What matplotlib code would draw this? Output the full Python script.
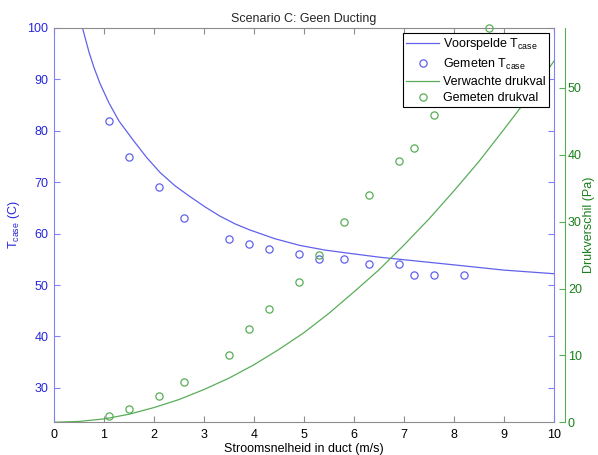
import matplotlib
matplotlib.use("Agg")
import matplotlib.pyplot as plt

# Predicted T_case curve
v_pred = [0.57, 0.7, 0.8, 0.92, 1.1, 1.3, 1.59, 1.85, 2.12, 2.42, 2.72, 3.02, 3.32, 3.62, 3.92, 4.42, 4.92, 5.42, 5.92, 6.52, 7.12, 8.12, 9.0, 10.0]
T_pred = [100.0, 95.3, 92.3, 89.2, 85.4, 81.9, 78.1, 74.85, 71.9, 69.3, 67.2, 65.2, 63.4, 61.9, 60.7, 59.0, 57.7, 56.8, 56.15, 55.4, 54.8, 53.8, 52.9, 52.2]

# Measured T_case
v_meas_T = [1.1, 1.5, 2.1, 2.6, 3.5, 3.9, 4.3, 4.9, 5.3, 5.8, 6.3, 6.9, 7.2, 7.6, 8.2]
T_meas = [82, 75, 69, 63, 59, 58, 57, 56, 55, 55, 54, 54, 52, 52, 52]

# Expected pressure drop curve
v_dp = [0, 0.5, 1, 1.5, 2, 2.5, 3, 3.5, 4, 4.5, 5, 5.5, 6, 6.5, 7, 7.5, 8, 8.5, 9, 9.5, 10]
dp_exp = [0, 0.13, 0.5, 1.2, 2.2, 3.4, 4.9, 6.6, 8.6, 10.9, 13.4, 16.3, 19.5, 22.8, 26.5, 30.4, 34.6, 39.0, 43.8, 48.7, 54.0]

# Measured pressure drop
v_meas_dp = [1.1, 1.5, 2.1, 2.6, 3.5, 3.9, 4.3, 4.9, 5.3, 5.8, 6.3, 6.9, 7.2, 7.6, 8.7]
dp_meas = [1, 2, 4, 6, 10, 14, 17, 21, 25, 30, 34, 39, 41, 46, 59]

plt.rcParams['font.family'] = ['Liberation Sans', 'DejaVu Sans']
plt.rcParams['font.size'] = 9

blue_line = (0.38, 0.38, 0.92)
blue_axis = (0.5, 0.5, 1.0)
blue_text = (0.15, 0.15, 0.85)
green_line = (0.35, 0.68, 0.35)
green_text = (0.1, 0.5, 0.1)
gray = (0.55, 0.55, 0.55)

fig = plt.figure(figsize=(5.98, 4.55), dpi=100)
ax = fig.add_axes([0.0903, 0.0719, 0.8361, 0.8666])
ax2 = ax.twinx()

h1, = ax.plot(v_pred, T_pred, '-', color=blue_line, lw=0.9, label=r'Voorspelde T$_{\mathregular{case}}$')
h2, = ax.plot(v_meas_T, T_meas, 'o', mfc='none', mec=blue_line, ms=5.2, mew=0.9, label=r'Gemeten T$_{\mathregular{case}}$')
h3, = ax2.plot(v_dp, dp_exp, '-', color=green_line, lw=0.9, label='Verwachte drukval')
h4, = ax2.plot(v_meas_dp, dp_meas, 'o', mfc='none', mec=green_line, ms=5.2, mew=0.9, label='Gemeten drukval', clip_on=False)

ax.set_xlim(0, 10)
ax.set_ylim(23.3, 100)
ax2.set_ylim(0, 58.95)
ax.set_xticks(range(0, 11))
ax.set_yticks(range(30, 101, 10))
ax2.set_yticks(range(0, 51, 10))

for s in ['top', 'bottom']:
    ax.spines[s].set_color(gray)
ax.spines['left'].set_color(blue_axis)
ax.spines['right'].set_color(blue_axis)
ax2.spines['right'].set_color(green_line)
ax2.spines['right'].set_position(('outward', 8))
ax2.spines['left'].set_visible(False)
ax2.spines['top'].set_visible(False)
ax2.spines['bottom'].set_visible(False)

ax.tick_params(axis='x', direction='in', top=True, length=4, color=gray, labelcolor='black', pad=5)
ax.tick_params(axis='y', direction='in', right=True, length=4, color=blue_axis, labelcolor=blue_text, pad=4)
ax2.tick_params(axis='y', direction='in', length=4, color=green_line, labelcolor=green_text, pad=2)

ax.set_xlabel('Stroomsnelheid in duct (m/s)', labelpad=1)
ax.set_ylabel(r'T$_{\mathregular{case}}$ (C)', color=blue_text, labelpad=4)
ax2.set_ylabel('Drukverschil (Pa)', color=green_text, labelpad=1)
ax.set_title('Scenario C: Geen Ducting', fontsize=9, color=(0.15, 0.15, 0.15), pad=4)

leg = ax2.legend(handles=[h1, h2, h3, h4], loc='upper right', numpoints=1, fancybox=False,
                 edgecolor='black', framealpha=1, borderaxespad=0.4, handlelength=2.7,
                 labelspacing=0.35, borderpad=0.25, handletextpad=0.3, fontsize=9)
leg.get_frame().set_linewidth(0.8)

fig.savefig('out.png', dpi=100)
